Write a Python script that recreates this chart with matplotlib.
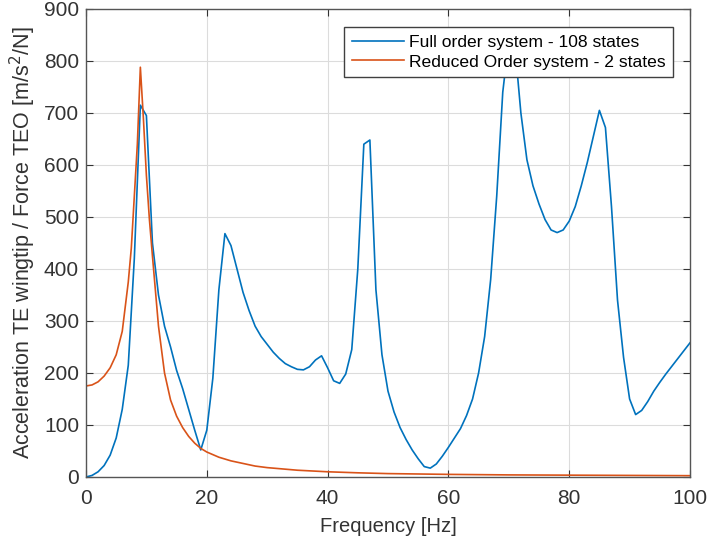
#!/usr/bin/env python3
"""
Frequency response: full order model vs reduced order model,
acceleration at the TE wingtip over force at TEO.
"""

import numpy as np
import matplotlib
matplotlib.use("Agg")
import matplotlib.pyplot as plt

# Full order system (108 states), 1 Hz samples
freq_full = list(range(0, 101))
acc_full = [
    0, 3, 10, 22, 42, 75, 130, 215, 420, 715,
    695, 450, 350, 290, 250, 205, 170, 130, 90, 52,
    90, 190, 360, 468, 445, 400, 355, 320, 290, 270,
    255, 240, 228, 218, 212, 207, 206, 212, 225, 233,
    210, 185, 180, 198, 245, 400, 640, 648, 360, 235,
    165, 125, 95, 72, 52, 35, 20, 17, 25, 40,
    57, 75, 93, 118, 150, 200, 270, 380, 540, 740,
    840, 830, 700, 610, 560, 525, 495, 475, 470, 475,
    492, 520, 560, 605, 655, 705, 672, 520, 340, 230,
    150, 120, 128, 145, 165, 182, 198, 213, 228, 243,
    258,
]

# Reduced order system (2 states)
freq_red = [0, 1, 2, 3, 4, 5, 6, 7, 7.5, 8, 8.5, 9, 9.5, 10, 10.5, 11,
            12, 13, 14, 15, 16, 17, 18, 19, 20, 22, 24, 26, 28, 30,
            35, 40, 45, 50, 60, 70, 80, 90, 100]
acc_red = [175, 177, 183, 194, 210, 235, 280, 375, 440, 540, 640, 788, 690,
           580, 495, 425, 290, 200, 148, 117, 95, 78, 65, 55, 48, 38, 31,
           26, 21, 18, 13, 10, 8, 6.5, 5, 4, 3.5, 3, 2.5]

legend_labels = ["Full order system - 108 states",
                 "Reduced Order system - 2 states"]

plt.rcParams["font.family"] = ["Liberation Sans", "DejaVu Sans"]

fig = plt.figure(figsize=(7.09, 5.44), dpi=100)
ax = fig.add_axes([0.1213, 0.1232, 0.8519, 0.8603])

ax.plot(freq_full, acc_full, color="#0072BD", lw=1.2, label=legend_labels[0])
ax.plot(freq_red, acc_red, color="#D95319", lw=1.2, label=legend_labels[1])

ax.set_xlim(0, 100)
ax.set_ylim(0, 900)
ax.set_xticks(np.arange(0, 101, 20))
ax.set_yticks(np.arange(0, 901, 100))
ax.grid(True, color="#dcdcdc", lw=0.8)
ax.set_axisbelow(True)

ax.tick_params(direction="in", top=True, right=True, length=5,
               labelsize=15, colors="#333333")
ax.tick_params(axis="x", pad=9)
ax.tick_params(axis="y", pad=5)
for s in ax.spines.values():
    s.set_color("#555555")
    s.set_linewidth(1.0)

ax.set_xlabel("Frequency [Hz]", fontsize=14.5, color="#333333", labelpad=6)
ax.set_ylabel("Acceleration TE wingtip / Force TEO [m/s$^2$/N]",
              fontsize=15.5, color="#333333", labelpad=4)

leg = ax.legend(loc="upper right", bbox_to_anchor=(0.972, 0.962),
                borderaxespad=0, fontsize=12.6, fancybox=False,
                framealpha=1, handlelength=3.0, handletextpad=0.25,
                labelspacing=0.25, borderpad=0.45)
leg.get_frame().set_edgecolor("#404040")
leg.get_frame().set_linewidth(1.0)

fig.savefig("out.png", dpi=100)
